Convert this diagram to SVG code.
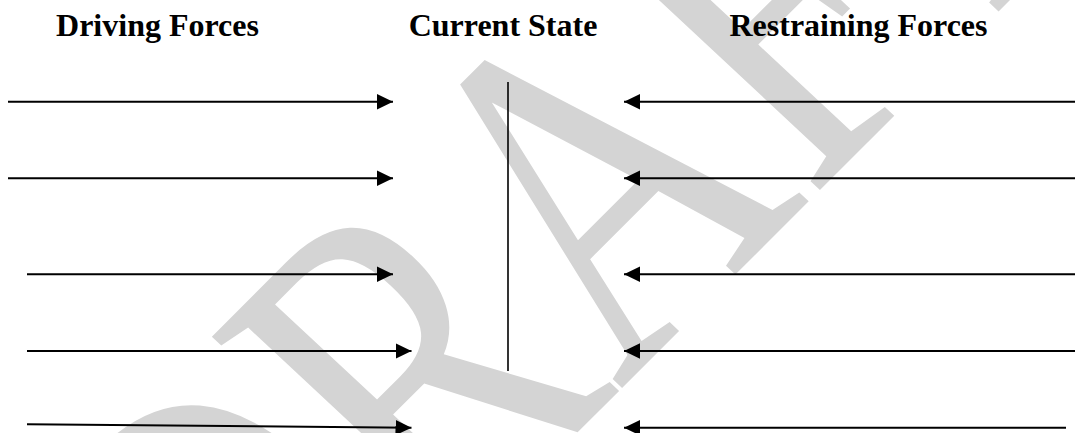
<svg xmlns="http://www.w3.org/2000/svg" width="1075" height="433" viewBox="0 0 1075 433">
<style>
.hdr{font-family:"Liberation Serif","Times New Roman",serif;font-weight:bold;font-size:32px;fill:#000;text-anchor:middle}
.wm{font-family:"Liberation Serif","Times New Roman",serif;font-size:100px;fill:#d4d4d4}
.arr{stroke:#000;stroke-width:2;fill:none;marker-end:url(#ah)}
.bar{stroke:#000;stroke-width:1.6}
</style>
<defs>
<marker id="ah" markerUnits="userSpaceOnUse" markerWidth="16" markerHeight="16" viewBox="0 0 16 16" refX="16" refY="8" orient="auto">
<path d="M0,0.3 L16,8 L0,15.7 Z" fill="#000"/>
</marker>
</defs>
<rect width="1075" height="433" fill="#fff"/>
<g id="watermark">
<text class="wm" transform="matrix(2.647,-2.647,3.646,3.402,251.8,758.2)" x="0" y="0">DRAFT</text>
</g>
<g id="headers">
<text id="driving" class="hdr" x="157.5" y="36">Driving Forces</text>
<text id="current" class="hdr" x="503" y="36">Current State</text>
<text id="restraining" class="hdr" x="858.5" y="36">Restraining Forces</text>
</g>
<g id="current-state-line">
<line class="bar" x1="508" y1="82" x2="508" y2="371"/>
</g>
<g id="connectors">
<line class="arr" x1="8" y1="101.7" x2="393" y2="101.7"/>
<line class="arr" x1="8" y1="178.3" x2="393" y2="178.3"/>
<line class="arr" x1="27" y1="274.3" x2="393" y2="274.3"/>
<line class="arr" x1="27" y1="351" x2="411.5" y2="351"/>
<line class="arr" x1="27" y1="424.3" x2="411.5" y2="427.7"/>
<line class="arr" x1="1076" y1="101.7" x2="624" y2="101.7"/>
<line class="arr" x1="1076" y1="178.3" x2="624" y2="178.3"/>
<line class="arr" x1="1076" y1="274.3" x2="624" y2="274.3"/>
<line class="arr" x1="1076" y1="351" x2="624" y2="351"/>
<line class="arr" x1="1066" y1="427.7" x2="624" y2="427.7"/>
</g>
</svg>
